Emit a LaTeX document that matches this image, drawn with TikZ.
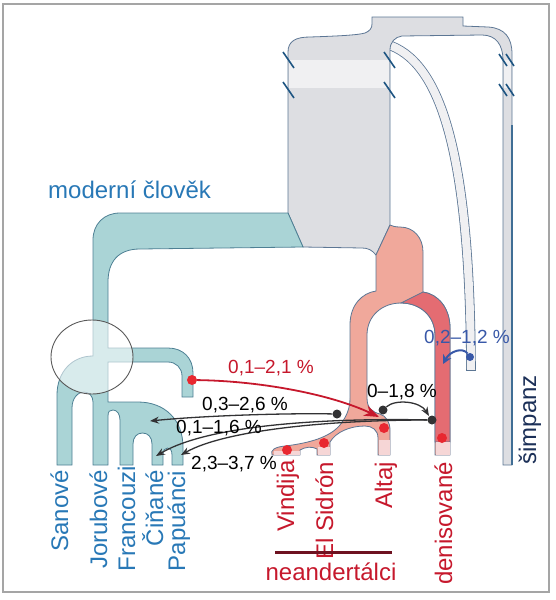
\documentclass[tikz,border=0pt]{standalone}
\usepackage{fontspec}
\setmainfont{Liberation Sans}
\usepackage{xcolor}
\usetikzlibrary{arrows.meta,positioning}

\definecolor{framegray}{RGB}{165,165,165}
\definecolor{tealfill}{RGB}{170,212,214}
\definecolor{tealline}{RGB}{78,128,148}
\definecolor{grayfill}{RGB}{221,222,226}
\definecolor{graylight}{RGB}{240,240,242}
\definecolor{grayline}{RGB}{92,118,148}
\definecolor{pinkfill}{RGB}{240,168,155}
\definecolor{denfill}{RGB}{228,108,114}
\definecolor{palefill}{RGB}{246,214,214}
\definecolor{markblue}{RGB}{30,85,130}
\definecolor{modblue}{RGB}{40,120,182}
\definecolor{archred}{RGB}{198,24,44}
\definecolor{dotred}{RGB}{232,40,48}
\definecolor{dotblack}{RGB}{50,50,52}
\definecolor{supblue}{RGB}{56,88,168}
\definecolor{chimpblue}{RGB}{28,48,88}
\definecolor{neamaroon}{RGB}{110,18,32}

\begin{document}
\begin{tikzpicture}[x=1pt,y=-1pt,
    lab/.style={inner sep=0pt, font=\fontsize{24}{24}\selectfont},
    vlab/.style={lab, rotate=90, anchor=base east},
    pct/.style={inner sep=0pt, anchor=base, font=\fontsize{19}{19}\selectfont},
    rdot/.style={circle, fill=dotred, inner sep=0pt, minimum size=10pt},
    kdot/.style={circle, fill=dotblack, inner sep=0pt, minimum size=9pt},
    brk/.style={markblue, line width=1.6pt},
    karrow/.style={dotblack, line width=1.3pt, -{Stealth[length=9pt,width=7pt]}}]

    \useasboundingbox (0,0) rectangle (555,600);
    \draw[framegray, line width=1.5pt] (3,4) rectangle (549,592);

    \draw[grayline, line width=0.8pt, double=graylight, double distance=8pt]
      (386,44) .. controls (440,60) and (470,150) .. (471,370);
    \draw[grayline, line width=0.8pt] (466,370) -- (476,370);

    \filldraw[fill=grayfill, draw=grayline, line width=0.8pt]
      (288,213) -- (288,52) .. controls (288,41) and (296,37) .. (310,37)
      .. controls (340,36) and (358,35) .. (365,33) .. controls (370,31) and (372,28) .. (372,24)
      -- (372,17) -- (463,17) -- (463,26) -- (488,27) .. controls (505,28) and (512,38) .. (512,54)
      -- (512,465) -- (503,465) -- (503,60) .. controls (503,45) and (496,35) .. (482,35)
      -- (402,36) .. controls (395,37) and (390,42) .. (390,50)
      -- (390,225) -- (376,255) .. controls (372,250) and (368,248) .. (362,248) -- (303,247) -- cycle;
    \fill[graylight] (288.6,60) rectangle (389.4,88);
    \fill[graylight] (503.6,60) rectangle (511.4,88);
    \draw[markblue!85, line width=1.5pt] (512,125) -- (512,465);

    \filldraw[fill=tealfill, draw=tealline, line width=0.8pt]
      (288,213) -- (120,213) .. controls (104,213) and (93,224) .. (93,240)
      -- (93,356) .. controls (72,356) and (57,372) .. (57,395)
      -- (57,465) -- (72,465) -- (72,408) .. controls (72,398) and (78,392) .. (84,392)
      .. controls (89,392) and (93,396) .. (93,402)
      -- (93,465) -- (108,465) -- (108,416) .. controls (108,411) and (110,410) .. (113,410)
      .. controls (117,410) and (120,414) .. (120,420)
      -- (120,465) -- (133,465) -- (133,444) .. controls (133,437) and (137,433) .. (142.5,433)
      .. controls (148,433) and (152,437) .. (152,444)
      -- (152,465) -- (163,465) -- (163,455) .. controls (163,450) and (165,448) .. (167.5,448)
      .. controls (170,448) and (172,450) .. (172,455)
      -- (172,465) -- (183,465) -- (183,447) .. controls (183,420) and (165,402) .. (138,402)
      -- (108,402) -- (108,362) -- (168,362) .. controls (176,362) and (182,368) .. (182,376)
      -- (182,397) -- (193,397) -- (193,373) .. controls (193,358) and (183,348) .. (168,348)
      -- (108,348) -- (108,282) .. controls (108,262) and (118,249) .. (140,249)
      -- (303,247) -- cycle;
    \filldraw[fill=white, fill opacity=0.55, draw=black!65, line width=0.9pt]
      (92,357) ellipse [x radius=41, y radius=37];

    \filldraw[fill=pinkfill, draw=grayline, line width=0.8pt]
      (376,255) -- (390,225) .. controls (392,226) and (395,227) .. (400,227)
      .. controls (414,227) and (423,238) .. (423,252)
      -- (423,292) .. controls (438,294) and (450,308) .. (450,328)
      -- (450,455) -- (435,455) -- (435,335) .. controls (435,316) and (420,303) .. (401,303)
      .. controls (382,303) and (367,316) .. (367,335)
      -- (367,398) .. controls (367,408) and (372,412) .. (380,414) .. controls (386,416) and (390,422) .. (390,430)
      -- (390,455) -- (378,455) -- (378,438) .. controls (378,430) and (372,426) .. (365,426)
      .. controls (350,426) and (336,432) .. (330,442)
      -- (330,455) -- (317,455) -- (317,449) .. controls (312,446) and (305,447) .. (300,450)
      -- (300,455) -- (272,455) .. controls (270,450) and (275,447) .. (285,446)
      .. controls (310,443) and (330,437) .. (340,425) .. controls (347,416) and (350,408) .. (350,398)
      -- (350,325) .. controls (350,305) and (362,293) .. (376,291) -- cycle;
    \filldraw[fill=denfill, draw=grayline, line width=0.8pt]
      (401,303) -- (423,292) .. controls (438,294) and (450,308) .. (450,328)
      -- (450,442) -- (435,442) -- (435,335) .. controls (435,316) and (420,303) .. (401,303) -- cycle;
    \fill[palefill] (435.5,442) rectangle (449.5,454.5);
    \fill[palefill] (378.5,440) rectangle (389.5,454.5);
    \fill[palefill] (317.5,447) rectangle (329.5,454.5);
    \fill[palefill] (274,451) rectangle (299.5,454.5);

    \draw[brk] (283,52) -- (294,68);
    \draw[brk] (283,82) -- (294,98);
    \draw[brk] (384,52) -- (395,68);
    \draw[brk] (384,82) -- (395,98);
    \draw[brk] (499,54) -- (507,66);
    \draw[brk] (506,54) -- (514,66);
    \draw[brk] (499,84) -- (507,96);
    \draw[brk] (506,84) -- (514,96);

    \node[rdot] (vin) at (287,450) {};
    \node[rdot] (sid) at (324,443) {};
    \node[rdot] (alt) at (384,428) {};
    \node[rdot] (den) at (442,438) {};
    \node[rdot] (m1) at (192,380) {};
    \node[kdot] (n1) at (337,414) {};
    \node[kdot] (n2) at (383,410) {};
    \node[kdot] (d1) at (432,420) {};
    \node[circle, fill=supblue, inner sep=0pt, minimum size=8pt] (s1) at (470,357) {};

    \coordinate (tfra) at (150,421);
    \coordinate (tcin) at (156,456);
    \coordinate (tpap) at (181,455);
    \coordinate (tnea) at (379,417);
    \coordinate (tden) at (429,416);
    \coordinate (tden2) at (443,364);

    \draw[archred, line width=1.8pt, -{Stealth[length=15pt,width=11pt]}]
      (m1) .. controls (260,381) and (330,394) .. (tnea);
    \draw[karrow] (n1) .. controls (280,413) and (200,416) .. (tfra);
    \draw[karrow] (d1) .. controls (330,418) and (210,424) .. (tcin);
    \draw[karrow] (d1) .. controls (330,420) and (225,430) .. (tpap);
    \draw[karrow] (n2) .. controls (395,399) and (420,401) .. (tden);
    \draw[supblue, line width=2pt, -{Stealth[length=9pt,width=9pt]}]
      (s1) .. controls (463,347) and (450,351) .. (tden2);

    \node[lab, modblue, anchor=base west] (mod) at (48,198) {moderní člověk};

    \node[pct, archred] (p1) at (271,373) {0,1–2,1 \%};
    \node[pct] (p2) at (245,410) {0,3–2,6 \%};
    \node[pct] (p3) at (219,433) {0,1–1,6 \%};
    \node[pct] (p4) at (234,469) {2,3–3,7 \%};
    \node[pct] (p5) at (402,397) {0–1,8 \%};
    \node[pct, supblue] (p6) at (467,343) {0,2–1,2 \%};

    \node[vlab, modblue] (san) at (68,470) {Sanové};
    \node[vlab, modblue] (jor) at (107,470) {Jorubové};
    \node[vlab, modblue] (fra) at (135,466) {Francouzi};
    \node[vlab, modblue] (cin) at (163,470) {Čiňané};
    \node[vlab, modblue] (pap) at (185,471) {Papuánci};

    \node[vlab, archred] (lvin) at (294,460) {Vindija};
    \node[vlab, archred] (lsid) at (333,462) {El Sidrón};
    \node[vlab, archred] (lalt) at (392,462) {Altaj};
    \node[vlab, archred] (lden) at (452,462) {denisované};
    \node[vlab, chimpblue] (lchi) at (536,375) {šimpanz};

    \draw[neamaroon, line width=3pt] (275,552) -- (392,552);
    \node[lab, archred, anchor=base] (nea) at (331,580) {neandertálci};
\end{tikzpicture}
\end{document}
